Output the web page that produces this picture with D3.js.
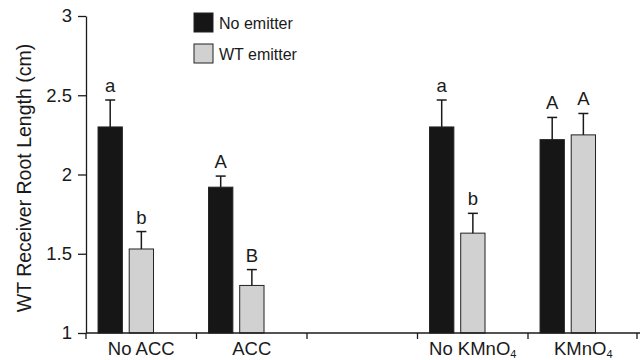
<!DOCTYPE html>
<html>
<head>
<meta charset="utf-8">
<script src="https://cdn.jsdelivr.net/npm/d3@7"></script>
<style>
  html, body { margin: 0; padding: 0; background: #fff; }
  svg { display: block; font-family: "Liberation Sans", Arial, Helvetica, sans-serif; }
</style>
</head>
<body>
<svg id="chart" width="641" height="360"></svg>
<script>
// ---- data ----
const categories = ["No ACC", "ACC", "", "No KMnO4", "KMnO4"];
const seriesNames = ["No emitter", "WT emitter"];
const noEmitter    = [2.30, 1.92, null, 2.30, 2.22];
const noEmitterErr = [0.17, 0.07, null, 0.17, 0.14];
const wtEmitter    = [1.53, 1.30, null, 1.63, 2.25];
const wtEmitterErr = [0.11, 0.10, null, 0.125, 0.135];
const noEmitterLetters = ["a", "A", "", "a", "A"];
const wtEmitterLetters = ["b", "B", "", "b", "A"];
const yTicks = [1, 1.5, 2, 2.5, 3];
const yTickLabels = ["1", "1.5", "2", "2.5", "3"];
const yTitle = "WT Receiver Root Length (cm)";

// ---- styles ----
const colors = { "No emitter": "#161616", "WT emitter": "#d0d1d0" };
const ink = "#1a1a1a";

const svg = d3.select("#chart");
const margin = { left: 86, right: 2.5, top: 16, bottom: 27 };
const W = 641, H = 360;

const x = d3.scaleBand().domain(categories)
  .range([margin.left, W - margin.right]).paddingInner(0).paddingOuter(0);
const bw = x.bandwidth();
const x1 = d3.scaleBand().domain(seriesNames)
  .range([bw * 0.109, bw * 0.611]).paddingInner(0.22);
const y = d3.scaleLinear().domain([1, 3]).range([H - margin.bottom, margin.top]);

// table built from arrays
const rows = [];
categories.forEach((c, i) => {
  if (noEmitter[i] != null) rows.push({ cat: c, s: "No emitter", v: noEmitter[i], e: noEmitterErr[i], L: noEmitterLetters[i] });
  if (wtEmitter[i] != null) rows.push({ cat: c, s: "WT emitter", v: wtEmitter[i], e: wtEmitterErr[i], L: wtEmitterLetters[i] });
});

// bars
svg.append("g").selectAll("rect").data(rows).join("rect")
  .attr("x", d => x(d.cat) + x1(d.s))
  .attr("width", x1.bandwidth())
  .attr("y", d => y(d.v))
  .attr("height", d => y(1) - y(d.v))
  .attr("fill", d => colors[d.s])
  .attr("stroke", "#222")
  .attr("stroke-width", 1);

// error bars
const eg = svg.append("g").attr("stroke", ink).attr("stroke-width", 1.5);
rows.forEach(d => {
  const cx = x(d.cat) + x1(d.s) + x1.bandwidth() / 2;
  eg.append("line").attr("x1", cx).attr("x2", cx).attr("y1", y(d.v)).attr("y2", y(d.v + d.e));
  eg.append("line").attr("x1", cx - 5).attr("x2", cx + 5).attr("y1", y(d.v + d.e)).attr("y2", y(d.v + d.e));
});

// letters
svg.append("g").selectAll("text").data(rows).join("text")
  .attr("x", d => x(d.cat) + x1(d.s) + x1.bandwidth() / 2)
  .attr("y", d => y(d.v + d.e) - 8)
  .attr("text-anchor", "middle")
  .attr("font-size", 18.5)
  .attr("fill", ink)
  .text(d => d.L);

// y axis
const yAxis = d3.axisLeft(y).tickValues(yTicks)
  .tickFormat((d, i) => yTickLabels[i]).tickSize(8).tickSizeOuter(0).tickPadding(6);
const gy = svg.append("g").attr("transform", `translate(${margin.left},0)`).call(yAxis);
gy.select(".domain").attr("stroke", ink).attr("stroke-width", 1.3);
gy.selectAll(".tick line").attr("stroke", ink).attr("stroke-width", 1.3);
gy.selectAll(".tick text").attr("font-size", 18.5).attr("fill", ink)
  .attr("font-family", "'Liberation Sans', Arial, Helvetica, sans-serif");

// x axis: baseline line + ticks at band boundaries
const xg = svg.append("g");
const baseY = y(1);
xg.append("line").attr("x1", margin.left).attr("x2", W - 1)
  .attr("y1", baseY).attr("y2", baseY).attr("stroke", ink).attr("stroke-width", 1.3);
const bounds = categories.map(c => x(c)).concat([x.range()[1] - 1.5]);
xg.selectAll("line.t").data(bounds).join("line").attr("class", "t")
  .attr("x1", d => d).attr("x2", d => d)
  .attr("y1", baseY).attr("y2", baseY + 6)
  .attr("stroke", ink).attr("stroke-width", 1.3);

// x labels with subscript
const lab = xg.selectAll("text.lab").data(categories.filter(c => c !== "")).join("text")
  .attr("class", "lab")
  .attr("x", d => x(d) + bw / 2)
  .attr("y", 355)
  .attr("text-anchor", "middle")
  .attr("font-size", 18.5)
  .attr("fill", ink);
lab.each(function (d) {
  const t = d3.select(this);
  const m = d.match(/^(.*?)(\d+)$/);
  if (m) {
    t.append("tspan").text(m[1]);
    t.append("tspan").attr("font-size", 11).attr("dy", 2.5).text(m[2]);
  } else {
    t.text(d);
  }
});

// y title
svg.append("text")
  .attr("transform", `translate(31,${178}) rotate(-90)`)
  .attr("text-anchor", "middle")
  .attr("font-size", 19.5)
  .attr("fill", ink)
  .text(yTitle);

// legend
const lg = svg.append("g");
seriesNames.forEach((s, i) => {
  const yy = 13 + i * 31;
  lg.append("rect").attr("x", 194).attr("y", yy).attr("width", 19).attr("height", 19)
    .attr("fill", colors[s]).attr("stroke", "#222").attr("stroke-width", 1);
  lg.append("text").attr("x", 219).attr("y", yy + 15.5)
    .attr("font-size", 16).attr("fill", ink).text(s);
});
</script>
</body>
</html>
